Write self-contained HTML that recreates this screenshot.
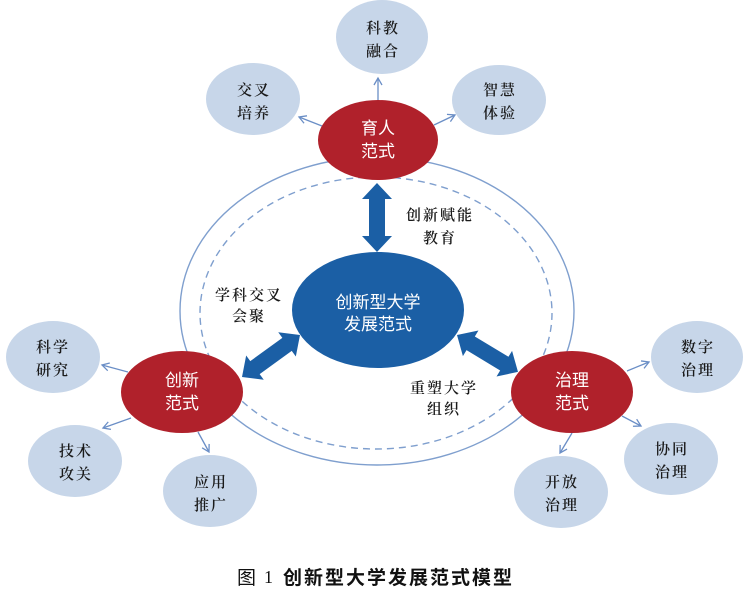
<!DOCTYPE html>
<html><head><meta charset="utf-8"><style>
html,body{margin:0;padding:0;background:#fff;}
svg{display:block;}
.sat{fill:#c7d6e9;}
.red{fill:#b0212b;}
.st{font-family:"Liberation Serif","Noto Serif CJK SC",serif;font-size:15px;font-weight:600;fill:#1a1a1a;text-anchor:middle;letter-spacing:2px;}
.wt{font-family:"Liberation Sans","Noto Sans CJK SC",sans-serif;font-size:17px;fill:#fff;text-anchor:middle;}
.ln{stroke:#6a8ec6;stroke-width:1.3;fill:none;}
</style></head><body>
<svg width="750" height="592" viewBox="0 0 750 592" xmlns="http://www.w3.org/2000/svg">
<defs>
<marker id="ah" markerWidth="10" markerHeight="10" refX="8" refY="5" orient="auto" markerUnits="userSpaceOnUse">
<polyline points="1,1 8,5 1,9" fill="none" stroke="#6a8ec6" stroke-width="1.3"/>
</marker>
</defs>
<rect width="750" height="592" fill="#fff"/>
<!-- outer rings -->
<ellipse cx="377" cy="311" rx="197" ry="154" fill="none" stroke="#7f9fce" stroke-width="1.4"/>
<ellipse cx="376" cy="313" rx="176" ry="136" fill="none" stroke="#7f9fce" stroke-width="1.4" stroke-dasharray="7,5"/>

<!-- satellites -->
<ellipse class="sat" cx="382" cy="37" rx="46" ry="37"/>
<ellipse class="sat" cx="253" cy="99" rx="47" ry="36"/>
<ellipse class="sat" cx="499" cy="100" rx="47" ry="35"/>
<ellipse class="sat" cx="53" cy="357" rx="47" ry="36"/>
<ellipse class="sat" cx="75" cy="461" rx="47" ry="36"/>
<ellipse class="sat" cx="210" cy="491" rx="47" ry="36"/>
<ellipse class="sat" cx="697" cy="357" rx="46" ry="36"/>
<ellipse class="sat" cx="671" cy="459" rx="47" ry="36"/>
<ellipse class="sat" cx="561" cy="492" rx="47" ry="36"/>

<text class="st" x="383" y="33">科教</text><text class="st" x="383" y="56">融合</text>
<text class="st" x="254" y="95">交叉</text><text class="st" x="254" y="118">培养</text>
<text class="st" x="500" y="95">智慧</text><text class="st" x="500" y="118">体验</text>
<text class="st" x="53" y="352">科学</text><text class="st" x="53" y="375">研究</text>
<text class="st" x="76" y="456">技术</text><text class="st" x="76" y="479">攻关</text>
<text class="st" x="211" y="487">应用</text><text class="st" x="211" y="510">推广</text>
<text class="st" x="698" y="352">数字</text><text class="st" x="698" y="375">治理</text>
<text class="st" x="672" y="454">协同</text><text class="st" x="672" y="477">治理</text>
<text class="st" x="562" y="487">开放</text><text class="st" x="562" y="510">治理</text>

<!-- thin arrows -->
<line class="ln" x1="378" y1="101" x2="378" y2="78" marker-end="url(#ah)"/>
<line class="ln" x1="322" y1="126" x2="299" y2="117" marker-end="url(#ah)"/>
<line class="ln" x1="434" y1="125" x2="455" y2="115" marker-end="url(#ah)"/>
<line class="ln" x1="128" y1="372" x2="102" y2="365" marker-end="url(#ah)"/>
<line class="ln" x1="131" y1="418" x2="103" y2="428" marker-end="url(#ah)"/>
<line class="ln" x1="198" y1="432" x2="209" y2="452" marker-end="url(#ah)"/>
<line class="ln" x1="627" y1="371" x2="649" y2="362" marker-end="url(#ah)"/>
<line class="ln" x1="622" y1="416" x2="641" y2="426" marker-end="url(#ah)"/>
<line class="ln" x1="572" y1="433" x2="560" y2="453" marker-end="url(#ah)"/>

<!-- red nodes -->
<ellipse class="red" cx="378" cy="140" rx="60" ry="40"/>
<ellipse class="red" cx="182" cy="392" rx="61" ry="41"/>
<ellipse class="red" cx="572" cy="392" rx="61" ry="41"/>
<text class="wt" x="378" y="134">育人</text><text class="wt" x="378" y="157">范式</text>
<text class="wt" x="182" y="386">创新</text><text class="wt" x="182" y="409">范式</text>
<text class="wt" x="572" y="386">治理</text><text class="wt" x="572" y="409">范式</text>

<!-- center -->
<ellipse cx="378" cy="310" rx="86" ry="58" fill="#1b5fa5"/>
<text class="wt" x="378" y="308">创新型大学</text>
<text class="wt" x="378" y="330">发展范式</text>

<!-- thick double arrows -->
<g fill="#1b5fa5">
<g transform="translate(377,183) rotate(90)"><polygon points="0,0 16,-15 16,-8 53,-8 53,-15 69,0 53,15 53,8 16,8 16,15"/></g>
<g transform="translate(242,377) rotate(-35.9)"><polygon points="0,0 16,-15 16,-8 55.6,-8 55.6,-15 71.6,0 55.6,15 55.6,8 16,8 16,15"/></g>
<g transform="translate(457,335) rotate(31.2)"><polygon points="0,0 16,-15 16,-8 55.3,-8 55.3,-15 71.3,0 55.3,15 55.3,8 16,8 16,15"/></g>
</g>

<!-- connector labels -->
<text class="st" x="440" y="220">创新赋能</text><text class="st" x="440" y="243">教育</text>
<text class="st" x="249" y="300">学科交叉</text><text class="st" x="249" y="321">会聚</text>
<text class="st" x="444" y="393">重塑大学</text><text class="st" x="444" y="414">组织</text>

<!-- caption -->
<text x="237" y="584" style="font-family:'Liberation Sans','Noto Sans CJK SC',sans-serif;font-size:19px;fill:#111;">图</text>
<text x="264" y="583" style="font-family:'Liberation Serif',serif;font-size:18px;fill:#111;">1</text>
<text x="283" y="584" style="font-family:'Liberation Sans','Noto Sans CJK SC',sans-serif;font-size:19px;fill:#111;letter-spacing:2px;font-weight:600;">创新型大学发展范式模型</text>
</svg>
</body></html>
